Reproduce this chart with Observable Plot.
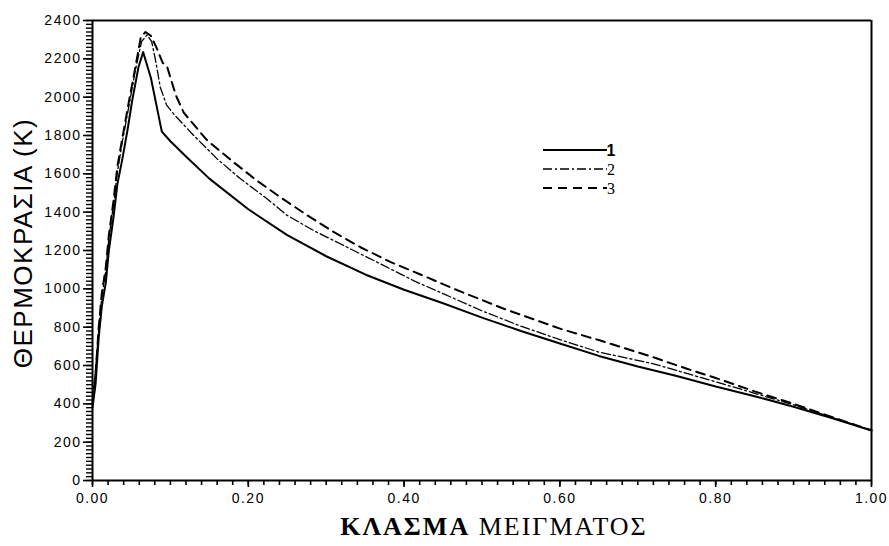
<!DOCTYPE html>
<html>
<head>
<meta charset="utf-8">
<script src="https://cdn.jsdelivr.net/npm/d3@7"></script>
<script src="https://cdn.jsdelivr.net/npm/@observablehq/plot@0.6"></script>
<style>
  html, body { margin: 0; padding: 0; background: #fff; }
  #chart { width: 889px; height: 546px; }
</style>
</head>
<body>
<div id="chart"></div>
<script>
// Curve 1 (solid)
const x1 = [0, 0.004, 0.008, 0.012, 0.017, 0.021, 0.027, 0.032, 0.038, 0.045, 0.051, 0.059, 0.065,
            0.075, 0.082, 0.089, 0.1, 0.12, 0.15, 0.2, 0.25, 0.3, 0.35, 0.4, 0.45, 0.5, 0.55, 0.6, 0.65, 0.7, 0.75, 0.8, 0.85, 0.9, 0.95, 1.0];
const t1 = [380, 505, 748, 910, 1030, 1200, 1374, 1548, 1670, 1830, 1983, 2156, 2235,
            2100, 1960, 1820, 1770, 1690, 1575, 1415, 1280, 1170, 1075, 995, 925, 850, 780, 715, 650, 595, 545, 490, 440, 385, 325, 260];
// Curve 2 (dash-dot)
const x2 = [0, 0.004, 0.008, 0.012, 0.017, 0.021, 0.027, 0.032, 0.038, 0.047, 0.055, 0.063, 0.07,
            0.076, 0.081, 0.087, 0.095, 0.104, 0.13, 0.16, 0.19, 0.224, 0.25, 0.284, 0.318, 0.361, 0.412, 0.45, 0.5, 0.55, 0.6, 0.65, 0.72, 0.8, 0.85, 0.9, 0.95, 1.0];
const t2 = [420, 580, 790, 960, 1090, 1260, 1440, 1610, 1760, 1960, 2140, 2290, 2325,
            2290, 2191, 2052, 1960, 1913, 1800, 1678, 1574, 1470, 1383, 1304, 1235, 1148, 1043, 975, 885, 805, 735, 670, 609, 515, 455, 395, 328, 262];
// Curve 3 (dashed)
const x3 = [0, 0.004, 0.008, 0.012, 0.017, 0.021, 0.027, 0.032, 0.038, 0.047, 0.055, 0.062, 0.068,
            0.075, 0.082, 0.09, 0.096, 0.107, 0.117, 0.147, 0.181, 0.211, 0.241, 0.276, 0.31, 0.344, 0.383, 0.421, 0.464, 0.528, 0.601, 0.652, 0.72, 0.763, 0.8, 0.85, 0.9, 0.95, 1.0];
const t3 = [400, 560, 800, 980, 1110, 1280, 1460, 1640, 1780, 1983, 2156, 2313, 2340,
            2320, 2260, 2180, 2156, 2010, 1920, 1775, 1661, 1565, 1478, 1383, 1296, 1217, 1139, 1075, 1000, 896, 791, 730, 643, 583, 535, 465, 400, 330, 262];

const seriesNames = ["1", "2", "3"];
const xTicks = [0, 0.2, 0.4, 0.6, 0.8, 1.0];
const xTickLabels = ["0.00", "0.20", "0.40", "0.60", "0.80", "1.00"];
const yTicks = [0, 200, 400, 600, 800, 1000, 1200, 1400, 1600, 1800, 2000, 2200, 2400];
const xLabel = ["ΚΛΑΣΜΑ", "ΜΕΙΓΜΑΤΟΣ"];
const yLabel = "ΘΕΡΜΟΚΡΑΣΙΑ (K)";

// minor tick steps: 0.02 on x, 20 K on y
const xMinor = Array.from({length: 51}, (_, i) => ({v: i / 50}));
const yMinor = Array.from({length: 121}, (_, i) => ({v: i * 20}));

const rows = s => s[0].map((x, i) => ({x, t: s[1][i]}));
const d1 = rows([x1, t1]), d2 = rows([x2, t2]), d3s = rows([x3, t3]);

const styles = [
  {stroke: "#000", strokeWidth: 2, dash: null},
  {stroke: "#000", strokeWidth: 1.3, dash: "9,3,2,3"},
  {stroke: "#000", strokeWidth: 2, dash: "9,6"}
];

const W = 889, H = 546, ML = 92, MR = 18, MT = 20, MB = 66;
// tick lengths expressed in data units of the two axes (≈5 px and ≈6 px)
const xTickLenData = 5 * 2400 / (H - MT - MB);
const yTickLenData = 6 / (W - ML - MR);

const plot = Plot.plot({
  width: W,
  height: H,
  marginLeft: ML,
  marginRight: MR,
  marginTop: MT,
  marginBottom: MB,
  style: {fontFamily: "'Liberation Sans', sans-serif", background: "#fff", color: "#000"},
  x: {domain: [0, 1]},
  y: {domain: [0, 2400]},
  marks: [
    Plot.ruleX(xMinor, {x: "v", y1: 0, y2: -xTickLenData, stroke: "#000", strokeWidth: 1.6, clip: false}),
    Plot.ruleY(yMinor, {y: "v", x1: 0, x2: -yTickLenData, stroke: "#000", strokeWidth: 1.4, clip: false}),
    Plot.axisX(xTicks, {tickSize: 7, tickPadding: 6, strokeWidth: 1.6, fontSize: 14, label: null,
      tickFormat: (d, i) => xTickLabels[i]}),
    Plot.axisY(yTicks, {tickSize: 9, tickPadding: 2, strokeWidth: 1.6, fontSize: 14, label: null,
      tickFormat: d => String(d)}),
    Plot.ruleX([0], {strokeWidth: 2}),
    Plot.ruleY([0], {strokeWidth: 2}),
    Plot.ruleY([2400], {strokeWidth: 2}),
    Plot.ruleX([1], {strokeWidth: 2}),
    Plot.line(d1, {x: "x", y: "t", stroke: styles[0].stroke, strokeWidth: styles[0].strokeWidth}),
    Plot.line(d2, {x: "x", y: "t", stroke: styles[1].stroke, strokeWidth: styles[1].strokeWidth, strokeDasharray: styles[1].dash}),
    Plot.line(d3s, {x: "x", y: "t", stroke: styles[2].stroke, strokeWidth: styles[2].strokeWidth, strokeDasharray: styles[2].dash})
  ]
});

const svg = d3.select(plot);
svg.selectAll("text").style("letter-spacing", "1.5px");

// Legend
const legendY = [150, 169, 188];
const lg = svg.append("g");
seriesNames.forEach((name, i) => {
  lg.append("line").attr("x1", 543).attr("x2", 607).attr("y1", legendY[i]).attr("y2", legendY[i])
    .attr("stroke", "#000").attr("stroke-width", styles[i].strokeWidth)
    .attr("stroke-dasharray", styles[i].dash);
  lg.append("text").attr("x", 611).attr("y", legendY[i]).attr("dy", "0.35em")
    .attr("font-family", i === 0 ? "'Liberation Sans', sans-serif" : "'Liberation Serif', serif")
    .attr("font-size", 16)
    .attr("font-weight", i === 0 ? "bold" : "normal").text(name);
});

// Axis titles
const xt = svg.append("text").attr("x", 494).attr("y", 535).attr("text-anchor", "middle")
  .attr("font-family", "'Liberation Serif', serif").attr("font-size", 26).style("letter-spacing", "2px");
xt.append("tspan").attr("font-weight", "bold").text(xLabel[0]);
xt.append("tspan").text(" " + xLabel[1]);

svg.append("text").attr("transform", "translate(32,243) rotate(-90)").attr("text-anchor", "middle")
  .attr("font-family", "'Liberation Sans', sans-serif").attr("font-size", 26).style("letter-spacing", "1.5px")
  .text(yLabel);

document.getElementById("chart").appendChild(plot);
</script>
</body>
</html>
